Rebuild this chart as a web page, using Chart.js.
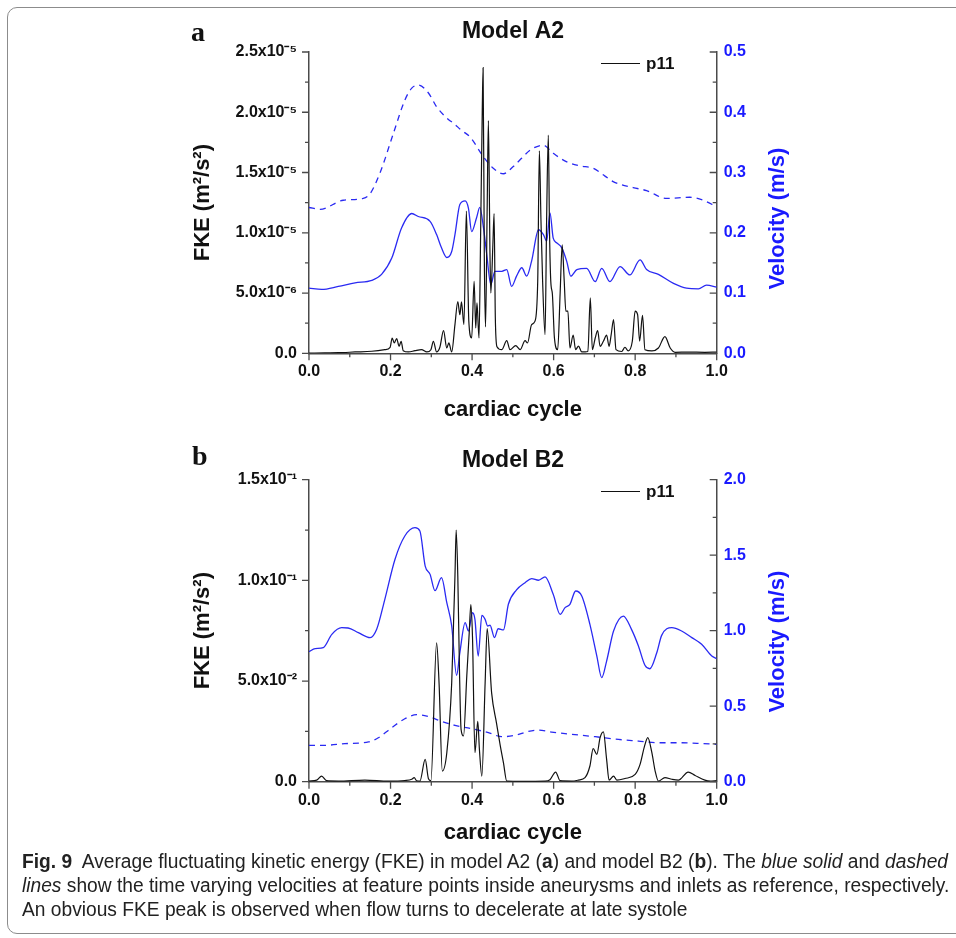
<!DOCTYPE html>
<html><head><meta charset="utf-8">
<script src="https://cdn.jsdelivr.net/npm/chart.js@4.4.1/dist/chart.umd.min.js"></script>
<style>
html,body{margin:0;padding:0;background:#fff;}
body{width:956px;height:938px;position:relative;overflow:hidden;font-family:'Liberation Sans',Arial,sans-serif;}
#frame{position:absolute;left:7px;top:7px;width:990px;height:927px;border:1px solid #8c8c8c;border-radius:10px;box-sizing:border-box;}
canvas{position:absolute;left:0;}
.panel{position:absolute;font-family:'Liberation Serif','Times New Roman',serif;font-weight:bold;font-size:28px;line-height:28px;color:#111;}
.leg{position:absolute;height:0;border-top:1.5px solid #111;width:39px;}
.legt{position:absolute;font-weight:bold;font-size:17px;line-height:20px;color:#111;}
#cap{position:absolute;left:22px;top:849px;font-family:'Liberation Sans Narrow','Liberation Sans',sans-serif;color:#222;line-height:24px;white-space:nowrap;font-size:19.5px;transform-origin:0 0;}
#cap span{display:inline-block;}
</style></head>
<body>
<div id="frame"></div>
<canvas id="cA" width="956" height="430" style="top:0"></canvas>
<canvas id="cB" width="956" height="430" style="top:428px"></canvas>
<div class="panel" style="left:191px;top:18px">a</div>
<div class="panel" style="left:192px;top:442px">b</div>
<div class="leg" style="left:601px;top:63px"></div>
<div class="legt" style="left:646px;top:54px">p11</div>
<div class="leg" style="left:601px;top:491px"></div>
<div class="legt" style="left:646px;top:482px">p11</div>
<div id="cap">
<div><span id="l1"><b>Fig. 9</b>&nbsp; Average fluctuating kinetic energy (FKE) in model A2 (<b>a</b>) and model B2 (<b>b</b>). The <i>blue solid</i> and <i>dashed</i></span></div>
<div><span><i>lines</i> show the time varying velocities at feature points inside aneurysms and inlets as reference, respectively.</span></div>
<div><span>An obvious FKE peak is observed when flow turns to decelerate at late systole</span></div>
</div>
<script>
// ================= DATA =================
// x axis: cardiac cycle (shared)
const xTicks = [0,0.1,0.2,0.3,0.4,0.5,0.6,0.7,0.8,0.9,1.0];
const xTickLabels = ['0.0','','0.2','','0.4','','0.6','','0.8','','1.0'];

// ---- Panel a: Model A2 ----
const aFkeTime = [0,0.039,0.072,0.113,0.154,0.186,0.199,0.204,0.209,0.215,0.221,0.226,0.231,0.244,0.26,0.276,0.289,0.299,0.305,0.313,0.321,0.33,0.338,0.343,0.35,0.358,0.365,0.37,0.374,0.38,0.386,0.392,0.399,0.405,0.409,0.412,0.417,0.421,0.425,0.427,0.43,0.433,0.437,0.44,0.444,0.446,0.451,0.454,0.457,0.461,0.473,0.485,0.493,0.507,0.518,0.53,0.536,0.546,0.554,0.561,0.565,0.569,0.573,0.579,0.583,0.587,0.59,0.593,0.597,0.602,0.61,0.616,0.621,0.626,0.63,0.635,0.64,0.648,0.654,0.661,0.669,0.684,0.69,0.695,0.702,0.708,0.714,0.722,0.73,0.736,0.741,0.747,0.753,0.767,0.775,0.783,0.793,0.8,0.806,0.811,0.818,0.824,0.841,0.857,0.873,0.886,0.898,0.93,0.971,1];
const aFke = [0.02e-6,0.03e-6,0.05e-6,0.11e-6,0.17e-6,0.3e-6,0.5e-6,1.27e-6,0.86e-6,1.22e-6,0.58e-6,1.0e-6,0.22e-6,0.11e-6,0.22e-6,0.3e-6,0.11e-6,0.3e-6,1.0e-6,0.11e-6,0.5e-6,1.88e-6,0.44e-6,0.86e-6,0.11e-6,2.38e-6,4.3e-6,3.2e-6,4.26e-6,2.38e-6,11.8e-6,2.65e-6,1.27e-6,5.97e-6,2.1e-6,4.18e-6,1.27e-6,10.0e-6,20.2e-6,23.7e-6,8.0e-6,2.2e-6,12.0e-6,19.3e-6,8.0e-6,5.0e-6,9.0e-6,11.6e-6,3.0e-6,0.55e-6,0.3e-6,1.05e-6,0.3e-6,0.64e-6,0.3e-6,1.05e-6,0.86e-6,2.38e-6,2.65e-6,5.97e-6,16.8e-6,11.0e-6,6.0e-6,1.55e-6,11.5e-6,18.1e-6,10.0e-6,6.0e-6,4.9e-6,1.27e-6,0.3e-6,5.0e-6,9.0e-6,6.0e-6,3.5e-6,3.5e-6,0.44e-6,1.5e-6,0.3e-6,0.6e-6,0.11e-6,0.15e-6,4.6e-6,0.3e-6,1.27e-6,1.88e-6,0.58e-6,1.0e-6,1.5e-6,0.58e-6,1.5e-6,2.8e-6,0.3e-6,0.15e-6,0.5e-6,0.2e-6,1.0e-6,3.5e-6,3.2e-6,1.0e-6,3.15e-6,0.3e-6,0.2e-6,0.44e-6,1.38e-6,0.44e-6,0.08e-6,0.1e-6,0.08e-6,0.1e-6];
const aVelTime = [0,0.031,0.072,0.113,0.154,0.178,0.203,0.227,0.252,0.268,0.297,0.313,0.325,0.338,0.35,0.358,0.37,0.383,0.391,0.399,0.411,0.419,0.428,0.436,0.446,0.456,0.473,0.485,0.497,0.509,0.522,0.534,0.546,0.563,0.575,0.583,0.591,0.599,0.608,0.62,0.632,0.642,0.657,0.681,0.702,0.718,0.738,0.763,0.787,0.812,0.828,0.857,0.894,0.926,0.955,0.975,1];
const aVel = [0.108,0.106,0.111,0.117,0.121,0.131,0.158,0.208,0.232,0.227,0.219,0.197,0.175,0.159,0.169,0.197,0.247,0.253,0.241,0.202,0.225,0.242,0.208,0.164,0.114,0.136,0.136,0.139,0.111,0.128,0.142,0.128,0.153,0.205,0.197,0.186,0.233,0.191,0.183,0.175,0.153,0.128,0.139,0.141,0.119,0.141,0.119,0.144,0.130,0.155,0.139,0.131,0.116,0.108,0.107,0.113,0.110];
const aInletTime = [0,0.027,0.084,0.133,0.15,0.174,0.207,0.235,0.252,0.268,0.293,0.313,0.342,0.354,0.374,0.395,0.428,0.452,0.477,0.501,0.522,0.542,0.563,0.575,0.599,0.631,0.665,0.697,0.726,0.746,0.795,0.828,0.877,0.934,0.967,1];
const aInlet = [0.242,0.239,0.254,0.257,0.265,0.299,0.365,0.420,0.440,0.445,0.432,0.409,0.388,0.382,0.370,0.359,0.326,0.307,0.298,0.310,0.324,0.337,0.344,0.345,0.332,0.318,0.311,0.307,0.294,0.285,0.275,0.270,0.257,0.259,0.254,0.243];
const aFkeTicks = [0,2.5e-6,5e-6,7.5e-6,1e-5,1.25e-5,1.5e-5,1.75e-5,2e-5,2.25e-5,2.5e-5];
const aFkeTickLabels = ['0.0','','5.0x10\u207B\u2076','','1.0x10\u207B\u2075','','1.5x10\u207B\u2075','','2.0x10\u207B\u2075','','2.5x10\u207B\u2075'];
const aVelTicks = [0,0.05,0.1,0.15,0.2,0.25,0.3,0.35,0.4,0.45,0.5];
const aVelTickLabels = ['0.0','','0.1','','0.2','','0.3','','0.4','','0.5'];

// ---- Panel b: Model B2 ----
const bFkeTime = [0,0.019,0.031,0.043,0.072,0.137,0.195,0.235,0.252,0.258,0.264,0.272,0.285,0.293,0.299,0.313,0.319,0.327,0.338,0.35,0.355,0.358,0.361,0.365,0.369,0.373,0.379,0.387,0.393,0.397,0.401,0.407,0.414,0.418,0.424,0.432,0.437,0.448,0.46,0.469,0.477,0.485,0.522,0.579,0.591,0.605,0.616,0.644,0.661,0.677,0.689,0.697,0.706,0.714,0.722,0.73,0.736,0.747,0.755,0.775,0.8,0.812,0.823,0.831,0.841,0.849,0.857,0.873,0.89,0.906,0.93,0.947,0.971,0.984,1];
const bFke = [0.0003,0.0008,0.0028,0.0005,0.0003,0.0008,0.0003,0.0006,0.0012,0.002,0.0005,0.0003,0.0111,0.0015,0.0005,0.069,0.049,0.0053,0.0144,0.049,0.082,0.102,0.125,0.102,0.056,0.026,0.0227,0.0525,0.074,0.088,0.072,0.0144,0.03,0.016,0.0028,0.049,0.076,0.044,0.029,0.018,0.0093,0.0003,0.0002,0.0003,0.001,0.0048,0.0005,0.0003,0.0008,0.002,0.0078,0.0164,0.0136,0.0219,0.0247,0.0111,0.0008,0.0028,0.0008,0.0016,0.0036,0.0086,0.0177,0.0219,0.0144,0.0053,0.0003,0.002,0.0012,0.0008,0.0048,0.0031,0.0008,0.0003,0.0006];
const bVelTime = [0,0.015,0.035,0.056,0.08,0.096,0.121,0.15,0.166,0.186,0.211,0.235,0.26,0.272,0.285,0.297,0.309,0.325,0.338,0.35,0.362,0.37,0.383,0.391,0.401,0.407,0.415,0.424,0.432,0.438,0.444,0.455,0.464,0.477,0.489,0.509,0.53,0.546,0.563,0.579,0.599,0.616,0.628,0.64,0.654,0.669,0.689,0.706,0.718,0.73,0.747,0.771,0.791,0.808,0.824,0.836,0.853,0.865,0.89,0.914,0.939,0.963,0.988,1];
const bVel = [0.861,0.881,0.888,0.976,1.020,1.018,0.987,0.954,1.009,1.208,1.473,1.627,1.682,1.660,1.428,1.373,1.265,1.351,1.186,1.031,0.704,0.854,1.053,0.998,1.119,1.075,0.832,1.102,1.075,1.031,1.036,0.954,1.013,1.005,1.175,1.270,1.318,1.345,1.334,1.356,1.241,1.108,1.153,1.175,1.263,1.230,1.042,0.832,0.689,0.799,0.998,1.097,1.009,0.899,0.771,0.748,0.854,0.969,1.020,0.998,0.954,0.910,0.832,0.815];
const bInletTime = [0,0.039,0.088,0.146,0.17,0.203,0.235,0.264,0.293,0.325,0.358,0.399,0.44,0.473,0.505,0.538,0.563,0.595,0.644,0.702,0.759,0.808,0.857,0.906,0.955,1];
const bInlet = [0.241,0.241,0.252,0.263,0.291,0.358,0.417,0.444,0.431,0.400,0.373,0.351,0.325,0.298,0.307,0.333,0.342,0.329,0.314,0.298,0.280,0.269,0.258,0.258,0.254,0.247];
const bFkeTicks = [0,0.025,0.05,0.075,0.1,0.125,0.15];
const bFkeTickLabels = ['0.0','','5.0x10\u207B\u00B2','','1.0x10\u207B\u00B9','','1.5x10\u207B\u00B9'];
const bVelTicks = [0,0.25,0.5,0.75,1.0,1.25,1.5,1.75,2.0];
const bVelTickLabels = ['0.0','','0.5','','1.0','','1.5','','2.0'];

// ================= RENDER =================
const FONT = '"Liberation Sans", Arial, Helvetica, sans-serif';
const BLUE = '#2a2af2';
const BLUE_TXT = '#1a1aff';
const AXIS = '#4a4a4a';

function pairs(xs, ys){ const n = Math.min(xs.length, ys.length); const out = []; for (let i = 0; i < n; i++) out.push({x: xs[i], y: ys[i]}); return out; }

const axisDeco = {
  id: 'axisDeco',
  afterDraw(chart, args, opts) {
    const ctx = chart.ctx; const {x, y, y2} = chart.scales;
    ctx.save();
    ctx.strokeStyle = AXIS; ctx.lineWidth = 1.3;
    ctx.beginPath();
    x.ticks.forEach(t => { const p = x.getPixelForValue(t.value); const L = t.label ? 7 : 4; ctx.moveTo(p, x.top); ctx.lineTo(p, x.top + L); });
    y.ticks.forEach(t => { const p = y.getPixelForValue(t.value); const L = t.label ? 7 : 4; ctx.moveTo(y.right, p); ctx.lineTo(y.right - L, p); });
    y2.ticks.forEach(t => { const p = y2.getPixelForValue(t.value); const L = t.label ? 7 : 4; ctx.moveTo(y2.left, p); ctx.lineTo(y2.left - L, p); });
    ctx.stroke();
    ctx.fillStyle = opts.color;
    ctx.font = 'bold 22px ' + FONT;
    ctx.translate(opts.x, (y2.top + y2.bottom) / 2 + opts.dy);
    ctx.rotate(-Math.PI / 2);
    ctx.textAlign = 'center'; ctx.textBaseline = 'middle';
    ctx.fillText(opts.text, 0, 0);
    ctx.restore();
  }
};

function makeChart(id, p) {
  return new Chart(document.getElementById(id), {
    type: 'line',
    data: {
      datasets: [
        { label: 'p11', data: pairs(p.fkeT, p.fke), yAxisID: 'y', borderColor: '#111', borderWidth: 1.2, pointRadius: 0, cubicInterpolationMode: 'monotone', fill: false },
        { label: 'velocity (aneurysm)', data: pairs(p.velT, p.vel), yAxisID: 'y2', borderColor: BLUE, borderWidth: 1.3, pointRadius: 0, cubicInterpolationMode: 'monotone', fill: false },
        { label: 'velocity (inlet)', data: pairs(p.inT, p.inl), yAxisID: 'y2', borderColor: BLUE, borderWidth: 1.3, borderDash: [6, 5], pointRadius: 0, cubicInterpolationMode: 'monotone', fill: false }
      ]
    },
    options: {
      responsive: false, animation: false, parsing: true,
      layout: { padding: { left: 70, right: 0, top: 0, bottom: 0 } },
      plugins: {
        legend: { display: false }, tooltip: { enabled: false },
        title: { display: true, text: p.title, color: '#111', font: { family: FONT, size: 23, weight: 'bold', lineHeight: 1.2 }, padding: { top: p.titleTop, bottom: p.titleBottom } },
        axisDeco: { text: 'Velocity (m/s)', color: BLUE_TXT, x: 778, dy: p.rdy }
      },
      scales: {
        x: {
          type: 'linear', min: 0, max: 1,
          afterBuildTicks: s => { s.ticks = xTicks.map(v => ({ value: v })); },
          afterFit: s => { s.height = p.xH; },
          ticks: { callback: (v, i) => xTickLabels[i], color: '#111', font: { family: FONT, size: 16, weight: 'bold' }, padding: 9, maxRotation: 0, autoSkip: false },
          grid: { display: false, drawTicks: false },
          border: { display: true, color: AXIS, width: 1.5 },
          title: { display: true, text: 'cardiac cycle', color: '#111', font: { family: FONT, size: 22, weight: 'bold', lineHeight: 1.2 }, padding: { top: 0, bottom: p.xTitleBottom } }
        },
        y: {
          type: 'linear', position: 'left', min: 0, max: p.fkeMax,
          afterBuildTicks: s => { s.ticks = p.fkeTicks.map(v => ({ value: v })); },
          afterFit: s => { s.width = 239; },
          ticks: { callback: (v, i) => p.fkeLabels[i], color: '#111', font: { family: FONT, size: 16, weight: 'bold' }, padding: 12, autoSkip: false },
          grid: { display: false, drawTicks: false },
          border: { display: true, color: AXIS, width: 1.5 },
          title: { display: true, text: 'FKE (m\u00B2/s\u00B2)', color: '#111', font: { family: FONT, size: 22, weight: 'bold', lineHeight: 1.2 }, padding: { top: 119.8, bottom: 0 } }
        },
        y2: {
          type: 'linear', position: 'right', min: 0, max: p.velMax,
          afterBuildTicks: s => { s.ticks = p.velTicks.map(v => ({ value: v })); },
          afterFit: s => { s.width = 956 - 716.7; },
          ticks: { callback: (v, i) => p.velLabels[i], color: BLUE_TXT, font: { family: FONT, size: 16, weight: 'bold' }, padding: 7, autoSkip: false },
          grid: { display: false, drawTicks: false },
          border: { display: true, color: AXIS, width: 1.5 }
        }
      }
    },
    plugins: [axisDeco]
  });
}

makeChart('cA', { title: 'Model A2', titleTop: 18, titleBottom: 6.4, xH: 76.7, xTitleBottom: 6.8, rdy: 16,
  fkeT: aFkeTime, fke: aFke, velT: aVelTime, vel: aVel, inT: aInletTime, inl: aInlet,
  fkeMax: 2.5e-5, fkeTicks: aFkeTicks, fkeLabels: aFkeTickLabels, velMax: 0.5, velTicks: aVelTicks, velLabels: aVelTickLabels });
makeChart('cB', { title: 'Model B2', titleTop: 19.2, titleBottom: 4.9, xH: 76.3, xTitleBottom: 11.8, rdy: 11,
  fkeT: bFkeTime, fke: bFke, velT: bVelTime, vel: bVel, inT: bInletTime, inl: bInlet,
  fkeMax: 0.15, fkeTicks: bFkeTicks, fkeLabels: bFkeTickLabels, velMax: 2.0, velTicks: bVelTicks, velLabels: bVelTickLabels });

// caption: condense horizontally so the first line spans the reference width
(function(){
  const cap = document.getElementById('cap');
  const l1 = document.getElementById('l1');
  const w = l1.getBoundingClientRect().width;
  if (w > 0) cap.style.transform = 'scaleX(' + (926 / w).toFixed(4) + ')';
})();
</script>
</body></html>
